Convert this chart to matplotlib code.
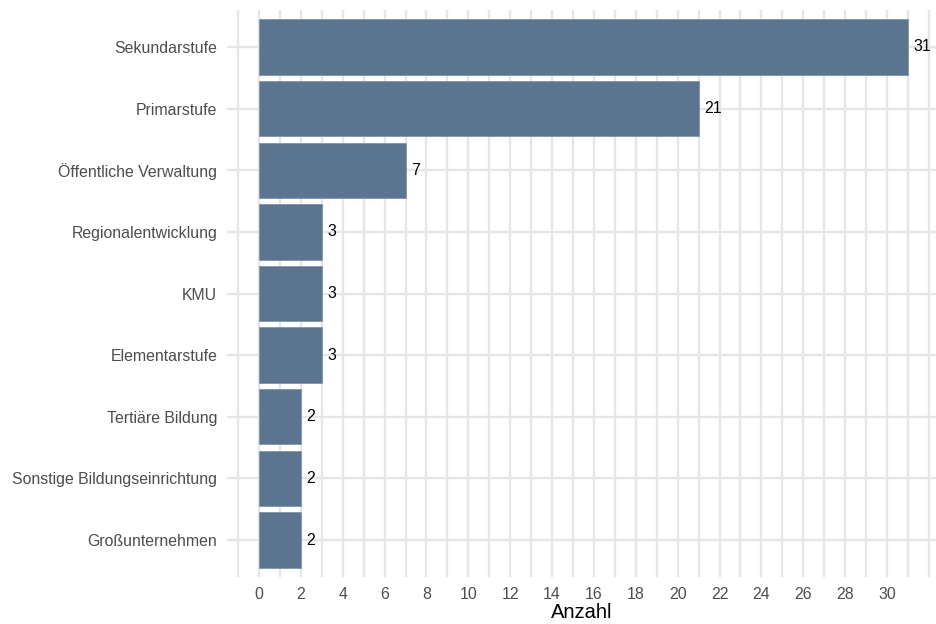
import matplotlib.pyplot as plt
import numpy as np

categories = ["Sekundarstufe", "Primarstufe", "Öffentliche Verwaltung", "Regionalentwicklung",
              "KMU", "Elementarstufe", "Tertiäre Bildung", "Sonstige Bildungseinrichtung",
              "Großunternehmen"]
counts = [31, 21, 7, 3, 3, 3, 2, 2, 2]
x_ticks = list(range(0, 31, 2))

plt.rcParams['font.family'] = ['Liberation Sans', 'DejaVu Sans']

fig = plt.figure(figsize=(9.37, 6.24), dpi=100)
ax = fig.add_axes([227 / 937, 1 - 577 / 624, 710 / 937, 567 / 624])

y = np.arange(len(categories))
grid_col = '#E6E6E6'
# grid at every integer (major even, minor odd)
for v in range(-1, 33):
    ax.axvline(v, color=grid_col, lw=1.7, zorder=0)
for yy in y:
    ax.axhline(yy, color=grid_col, lw=1.7, zorder=0)

ax.barh(y, counts, height=0.9, color='#5B7591', edgecolor='#7F95AC', linewidth=0.6, zorder=2)
for yy, c in zip(y, counts):
    ax.annotate(str(c), (c, yy), xytext=(4, 0), textcoords='offset points',
                ha='left', va='center', fontsize=11.4, color='black', zorder=3)

ax.set_xlim(-1.53, 32.39)
ax.set_ylim(len(categories) - 0.4, -0.6)
ax.set_yticks(y)
ax.set_yticklabels(categories)
ax.set_xticks(x_ticks)
ax.tick_params(axis='y', length=0, pad=7, labelsize=11.4, labelcolor='#4D4D4D')
ax.tick_params(axis='x', length=0, pad=7, labelsize=11.4, labelcolor='#4D4D4D')
ax.set_xlabel("Anzahl", fontsize=14.5, color='black', labelpad=1)
for s in ax.spines.values():
    s.set_visible(False)

fig.savefig('out.png', dpi=100)
